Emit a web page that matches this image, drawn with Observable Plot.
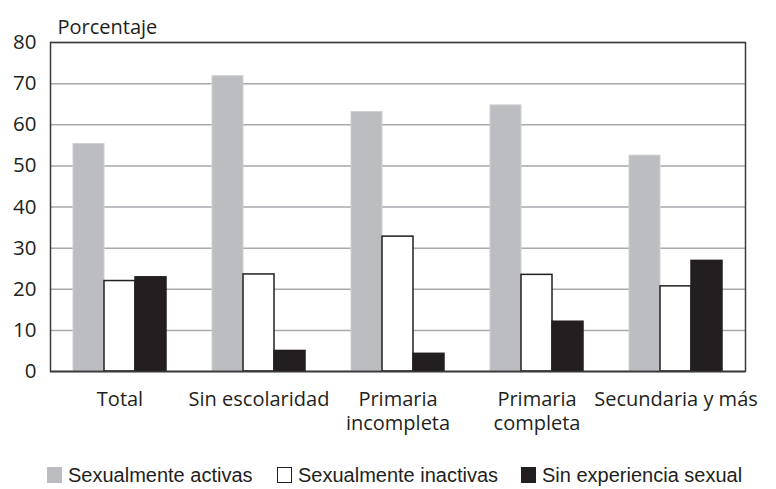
<!DOCTYPE html>
<html><head><meta charset="utf-8">
<script src="https://cdn.jsdelivr.net/npm/d3@7"></script>
<script src="https://cdn.jsdelivr.net/npm/@observablehq/plot@0.6"></script>
<style>
body{margin:0;background:#fff;}
#chart{width:776px;height:440px;}
.legend{position:relative;height:49px;font-family:"Liberation Sans",Arial,sans-serif;font-size:20px;color:#231f20;}
.item{position:absolute;top:27px;display:flex;align-items:center;height:16px;white-space:nowrap;}
.sw{display:inline-block;width:15px;height:16px;margin-right:6px;box-sizing:border-box;}
</style></head><body>
<div id="chart"></div>
<div class="legend" id="legend"></div>
<script>
const groups = ["Total", "Sin escolaridad", "Primaria incompleta", "Primaria completa", "Secundaria y más"];
const groupLabels = ["Total", "Sin escolaridad", "Primaria\nincompleta", "Primaria\ncompleta", "Secundaria y más"];
const seriesNames = ["Sexualmente activas", "Sexualmente inactivas", "Sin experiencia sexual"];
const activas = [55.3, 71.8, 63.1, 64.7, 52.5];
const inactivas = [22.0, 23.6, 32.8, 23.5, 20.7];
const sinExperiencia = [22.9, 5.0, 4.3, 12.1, 26.9];
const yTicks = [0, 10, 20, 30, 40, 50, 60, 70, 80];
const fills = ["#bcbdc0", "#ffffff", "#231f20"];
const strokes = ["#cfd0d2", "#231f20", "#231f20"];

const seriesValues = [activas, inactivas, sinExperiencia];
const rows = seriesNames.map((s, k) => groups.map((g, i) => ({group: g, series: s, value: seriesValues[k][i]})));

const plot = Plot.plot({
  width: 776, height: 440,
  marginLeft: 50, marginRight: 31, marginTop: 42, marginBottom: 69,
  style: {fontFamily: "'Open Sans', sans-serif", fontSize: "20px", color: "#231f20", background: "#fff"},
  fx: {domain: groups, padding: 0, label: null},
  x: {domain: seriesNames, paddingInner: 0, paddingOuter: 0.72, axis: null},
  y: {domain: [0, 80], label: null},
  marks: [
    Plot.gridY(yTicks, {stroke: "#a7a9ac", strokeOpacity: 1, strokeWidth: 1.5}),
    ...rows.map((data, k) => Plot.barY(data, {fx: "group", x: "series", y: "value", fill: fills[k], stroke: strokes[k], strokeWidth: k === 0 ? 1 : 1.5})),
    Plot.ruleY([0], {stroke: "#231f20", strokeWidth: 1.5}),
    Plot.frame({facet: "super", stroke: "#3a3a3a", strokeWidth: 1.5}),
    Plot.axisY(yTicks, {tickSize: 0, tickPadding: 14, label: null, fontSize: 20.5}),
    Plot.axisFx({anchor: "bottom", tickSize: 0, tickPadding: 17, label: null, lineHeight: 1.2, fontSize: 20,
      tickFormat: d => groupLabels[groups.indexOf(d)]}),
    Plot.text(["Porcentaje"], {facet: "super", frameAnchor: "top-left", textAnchor: "start", dx: 7, dy: -23, fontSize: 20})
  ]
});
document.getElementById("chart").appendChild(plot);

const legendLeft = [47, 277, 521];
const lg = document.getElementById("legend");
seriesNames.forEach((s, k) => {
  const it = document.createElement("div");
  it.className = "item";
  it.style.left = legendLeft[k] + "px";
  const sw = document.createElement("span");
  sw.className = "sw";
  sw.style.background = fills[k];
  if (k === 1) sw.style.border = "1.5px solid #231f20";
  it.appendChild(sw);
  it.appendChild(document.createTextNode(s));
  lg.appendChild(it);
});
</script>
</body></html>
